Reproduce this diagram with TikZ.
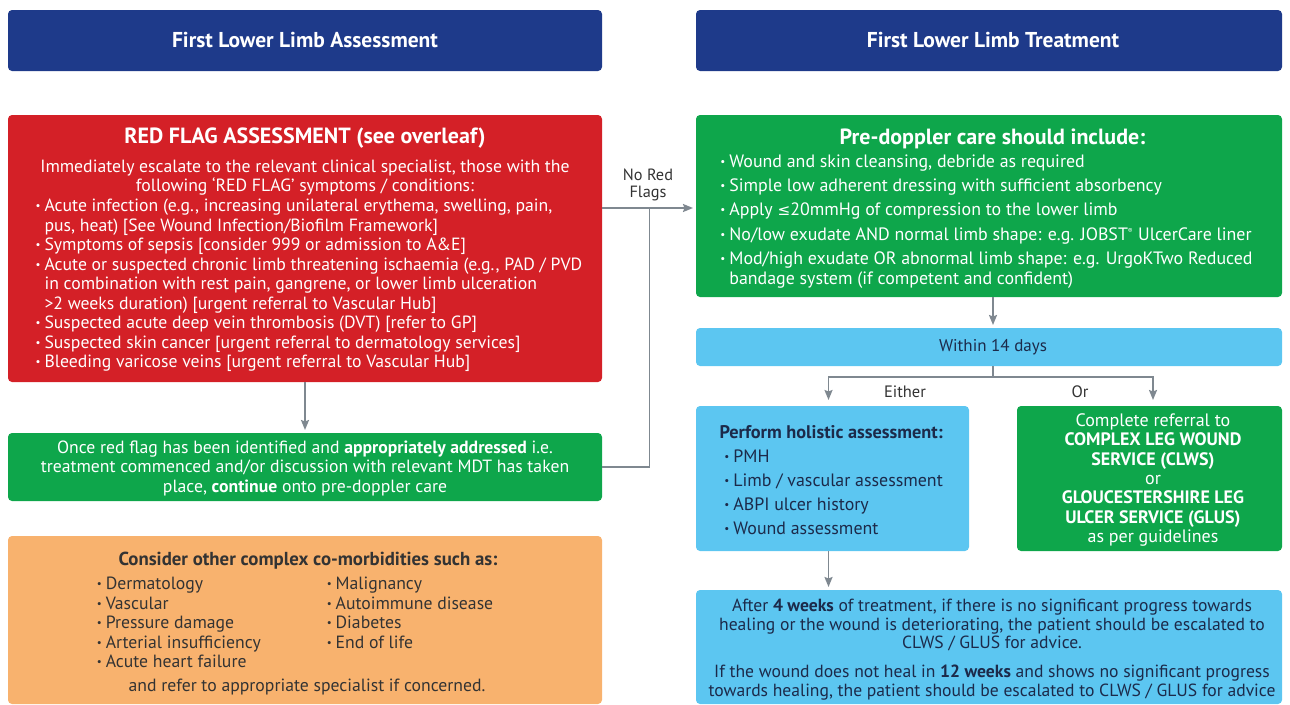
\documentclass[tikz,border=0pt]{standalone}
\usepackage{fontspec}
\setmainfont{PT Sans}
\newfontfamily\symfnt[Scale=0.85]{DejaVu Sans}
\usetikzlibrary{arrows.meta}

\definecolor{navy}{HTML}{1E3A8A}
\definecolor{flagred}{HTML}{D42027}
\definecolor{caregreen}{HTML}{0EA64B}
\definecolor{skyblue}{HTML}{5CC6F1}
\definecolor{peach}{HTML}{F8B26E}
\definecolor{linegray}{HTML}{7F8890}
\definecolor{inkdark}{HTML}{1C2A4A}
\definecolor{labelgray}{HTML}{333333}

\newcommand\fs[2]{\fontsize{#1}{#2}\selectfont}
% small list bullet followed by a fixed gap
\newcommand\bul{\makebox[0.5em][l]{\raisebox{0.11em}{\scalebox{0.62}{•}}}}
\newcommand\cont{\hspace*{0.5em}}

\begin{document}
\begin{tikzpicture}[x=1pt,y=-1pt,
  panel/.style={rounded corners=4pt, inner sep=0pt, outer sep=0pt},
  txt/.style={inner sep=0pt, outer sep=0pt},
  hdr/.style={panel, fill=navy, text=white, font=\fs{21.5}{24}\bfseries, minimum height=61pt},
  wire/.style={draw=linegray, line width=1.8pt},
  flow/.style={wire, -{Stealth[length=10pt,width=8pt,inset=1.5pt]}, shorten >=3pt},
  sflow/.style={flow, shorten >=6pt}
]
\useasboundingbox (0,0) rectangle (1290,704);

% ---------- column headers ----------
\node[hdr, minimum width=594pt] (hdrA) at (305,40.5) {\raisebox{-2pt}{First Lower Limb Assessment}};
\node[hdr, minimum width=586pt] (hdrB) at (989,40.5) {\raisebox{-2pt}{\hspace*{8pt}First Lower Limb Treatment}};

% ---------- red flag assessment ----------
\node[panel, fill=flagred, minimum width=594pt, minimum height=267pt] (redflag) at (305,248.5) {};
\node[txt, text=white, font=\fs{22}{24}\bfseries] (redT) at (305,138.5) {RED FLAG ASSESSMENT (see overleaf)};
\node[txt, text=white, font=\fs{17.7}{19.5}, align=center] (redI) at (305,177.8)
  {Immediately escalate to the relevant clinical specialist, those with the\\
   following ‘RED FLAG’ symptoms / conditions:};
\node[txt, text=white, font=\fs{17.7}{19.5}, align=left, anchor=west] (redL) at (35.7,285.3)
  {\bul Acute infection (e.g., increasing unilateral erythema, swelling, pain,\\
   \cont pus, heat) [See Wound Infection/Biofilm Framework]\\
   \bul Symptoms of sepsis [consider 999 or admission to A\&E]\\
   \bul Acute or suspected chronic limb threatening ischaemia (e.g., PAD / PVD\\
   \cont in combination with rest pain, gangrene, or lower limb ulceration\\
   \cont >2 weeks duration) [urgent referral to Vascular Hub]\\
   \bul Suspected acute deep vein thrombosis (DVT) [refer to GP]\\
   \bul Suspected skin cancer [urgent referral to dermatology services]\\
   \bul Bleeding varicose veins [urgent referral to Vascular Hub]};

% ---------- red flag addressed ----------
\node[panel, fill=caregreen, minimum width=594pt, minimum height=68pt] (cleared) at (305,467) {};
\node[txt, text=white, font=\fs{17.7}{19.4}, align=center] (clearedT) at (305,468.3)
  {Once red flag has been identified and \textbf{appropriately addressed} i.e.\\
   treatment commenced and/or discussion with relevant MDT has taken\\
   place, \textbf{continue} onto pre-doppler care};

% ---------- co-morbidities ----------
\node[panel, fill=peach, minimum width=594pt, minimum height=168pt] (comorb) at (305,620) {};
\node[txt, text=labelgray, font=\fs{18.8}{21}\bfseries] (comorbT) at (308,560.3) {Consider other complex co-morbidities such as:};
\node[txt, text=labelgray, font=\fs{17.7}{19.6}, align=left, anchor=west] (comorbA) at (96.9,622.5)
  {\bul Dermatology\\ \bul Vascular\\ \bul Pressure damage\\ \bul Arterial insufficiency\\ \bul Acute heart failure};
\node[txt, text=labelgray, font=\fs{17.7}{19.6}, align=left, anchor=west] (comorbB) at (326.8,612.8)
  {\bul Malignancy\\ \bul Autoimmune disease\\ \bul Diabetes\\ \bul End of life};
\node[txt, text=labelgray, font=\fs{17.7}{19}] (comorbE) at (307,687.3) {and refer to appropriate specialist if concerned.};

% ---------- pre-doppler care ----------
\node[panel, fill=caregreen, minimum width=586pt, minimum height=182pt] (predop) at (989,206) {};
\node[txt, text=white, font=\fs{22}{24}\bfseries] (predopT) at (992.5,138.5) {Pre-doppler care should include:};
\node[txt, text=white, font=\fs{17.9}{19.7}, align=left, anchor=west] (predopL) at (720.4,221.3)
  {\bul Wound and skin cleansing, debride as required\\[4.6pt]
   \bul Simple low adherent dressing with sufficient absorbency\\[4.6pt]
   \bul Apply {\symfnt ≤}20mmHg of compression to the lower limb\\[4.6pt]
   \bul No/low exudate AND normal limb shape: e.g. JOBST\textsuperscript{\scriptsize ®} UlcerCare liner\\[4.6pt]
   \bul Mod/high exudate OR abnormal limb shape: e.g. UrgoKTwo Reduced\\
   \cont bandage system (if competent and confident)};

% ---------- within 14 days ----------
\node[panel, fill=skyblue, minimum width=586pt, minimum height=38pt, text=inkdark, font=\fs{17}{19}] (within) at (989,347) {\hspace*{8pt}Within 14 days};

% ---------- holistic assessment ----------
\node[panel, fill=skyblue, minimum width=273pt, minimum height=145pt] (holistic) at (832.5,478.5) {};
\node[txt, text=inkdark, font=\fs{18.3}{20}\bfseries, anchor=west] (holisticT) at (719.5,431.7) {Perform holistic assessment:};
\node[txt, text=inkdark, font=\fs{17.9}{24}, align=left, anchor=west] (holisticL) at (724.4,492)
  {\bul PMH\\ \bul Limb / vascular assessment\\ \bul ABPI ulcer history\\ \bul Wound assessment};

% ---------- specialist referral ----------
\node[panel, fill=caregreen, minimum width=265pt, minimum height=145pt] (clws) at (1149.5,478.5) {};
\node[txt, text=white, font=\fs{18}{19.4}, align=center] (clwsT) at (1153,480)
  {Complete referral to\\
   \textbf{COMPLEX LEG WOUND}\\
   \textbf{SERVICE (CLWS)}\\
   or\\
   \textbf{GLOUCESTERSHIRE LEG}\\
   \textbf{ULCER SERVICE (GLUS)}\\
   as per guidelines};

% ---------- escalation review ----------
\node[panel, fill=skyblue, minimum width=586pt, minimum height=114pt] (review) at (989,647) {};
\node[txt, text=inkdark, font=\fs{17.6}{18.7}, align=center] (reviewT) at (992,649.5)
  {After \textbf{4 weeks} of treatment, if there is no significant progress towards\\
   healing or the wound is deteriorating, the patient should be escalated to\\
   CLWS / GLUS for advice.\\[10.3pt]
   If the wound does not heal in \textbf{12 weeks} and shows no significant progress\\
   towards healing, the patient should be escalated to CLWS / GLUS for advice};

% ---------- connectors ----------
\coordinate (nrf) at (649.5,208);
\draw[flow] (redflag.east |- nrf) -- (predop.west |- nrf);
\draw[wire] (cleared.east) -| (nrf);
\node[txt, text=labelgray, font=\fs{16.3}{17.5}, align=center] (nrfLbl) at (648,184.7) {No Red\\Flags};

\draw[flow] (redflag.south) -- (cleared.north);

\coordinate (trunk) at (993,377.3);
\coordinate (brL) at (828.5,377.3);
\coordinate (brR) at (1153,377.3);
\draw[flow] (predop.south -| trunk) -- (within.north -| trunk);
\draw[wire] (within.south -| trunk) -- (trunk);
\draw[sflow] (trunk) -| (holistic.north -| brL);
\draw[sflow] (trunk) -| (clws.north -| brR);
\node[txt, text=labelgray, font=\fs{16.5}{18}] (eitherLbl) at (905,391.7) {Either};
\node[txt, text=labelgray, font=\fs{16.5}{18}] (orLbl) at (1080,391.7) {Or};

\draw[flow] (holistic.south -| brL) -- (review.north -| brL);
\end{tikzpicture}
\end{document}
